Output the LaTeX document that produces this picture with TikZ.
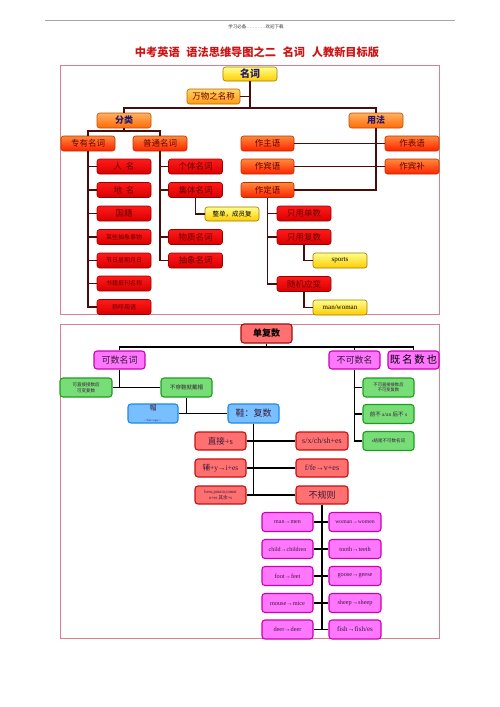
\documentclass[tikz,border=0pt]{standalone}
\usepackage{fontspec}
\setmainfont{Liberation Serif}
\newfontfamily\cjk{Noto Sans CJK SC}
\newcommand\fsz[2]{\fontsize{#1pt}{#2pt}\selectfont}
\definecolor{cRedT}{HTML}{FF1A1A}
\definecolor{cRedB}{HTML}{D80000}
\definecolor{cRedD}{HTML}{9A0000}
\definecolor{cRedTx}{HTML}{6A0000}
\definecolor{cOrT}{HTML}{FF8A3A}
\definecolor{cOrB}{HTML}{FF2200}
\definecolor{cOrD}{HTML}{B83000}
\definecolor{cCatT}{HTML}{FFB060}
\definecolor{cCatB}{HTML}{FF6A08}
\definecolor{cCatD}{HTML}{B85000}
\definecolor{cNavy}{HTML}{25186E}
\definecolor{cYelT}{HTML}{FFFF8A}
\definecolor{cYelB}{HTML}{FFCC00}
\definecolor{cYelD}{HTML}{A07A00}
\definecolor{cGoldT}{HTML}{FFD466}
\definecolor{cGoldB}{HTML}{FF9A10}
\definecolor{cGoldD}{HTML}{B06A00}
\definecolor{cLink}{HTML}{4A0C0C}
\definecolor{cPanel}{HTML}{D9808E}
\definecolor{cTitle}{HTML}{CC1414}
\definecolor{cMag}{HTML}{FF77FF}
\definecolor{cMagD}{HTML}{CC00B0}
\definecolor{cGrn}{HTML}{77DD77}
\definecolor{cGrnD}{HTML}{1E9E1E}
\definecolor{cBlu}{HTML}{77BFFF}
\definecolor{cBluD}{HTML}{1E88E8}
\definecolor{cSal}{HTML}{FF7070}
\definecolor{cSalD}{HTML}{C81010}
\definecolor{cTxt}{HTML}{3A1A3A}
\tikzset{
  bx/.style={draw, rounded corners=2.5pt, inner sep=0pt, align=center, line width=0.6pt},
  redc/.style={bx, top color=cRedT, bottom color=cRedB, draw=cRedD, text=cRedTx,
    font=\cjk\fsz{8.5}{10}, minimum width=54pt, minimum height=15pt},
  orc/.style={bx, top color=cOrT, bottom color=cOrB, draw=cOrD, text=cRedTx,
    font=\cjk\fsz{8.5}{10}, minimum width=54pt, minimum height=15pt},
  catc/.style={bx, top color=cCatT, bottom color=cCatB, draw=cCatD, text=cNavy,
    font=\cjk\bfseries\fsz{9}{10}, minimum width=54pt, minimum height=15pt},
  yelc/.style={bx, top color=cYelT, bottom color=cYelB, draw=cYelD, text=black,
    font=\fsz{7}{8}, minimum width=54pt, minimum height=15pt},
  goldc/.style={bx, top color=cGoldT, bottom color=cGoldB, draw=cGoldD, text=cRedTx,
    font=\cjk\fsz{8.5}{10}, minimum width=53pt, minimum height=15pt},
  lnk/.style={draw=cLink, line width=1.3pt},
  blk/.style={draw=black, line width=1.7pt},
  panel/.style={draw=cPanel, line width=0.9pt},
  bb/.style={draw, rounded corners=3pt, inner sep=0pt, align=center, line width=1.1pt,
    minimum width=51pt, minimum height=19pt, text=cTxt},
  magc/.style={bb, fill=cMag, draw=cMagD},
  grnc/.style={bb, fill=cGrn, draw=cGrnD},
  bluc/.style={bb, fill=cBlu, draw=cBluD},
  salc/.style={bb, fill=cSal, draw=cSalD},
}
\begin{document}
\begin{tikzpicture}[x=1pt,y=-1pt]
\useasboundingbox (0,0) rectangle (500,707);
% header
\draw[gray!70, line width=0.5pt] (45,20) -- (455,20);
\node[font=\cjk\fsz{4.5}{5}, text=black!80] (hdr) at (256,27) {学习必备…………欢迎下载};
\node[font=\cjk\bfseries\fsz{11.2}{13}, text=cTitle] (title) at (257,52) {中考英语\hspace{0.6em}语法思维导图之二\hspace{0.6em}名词\hspace{0.6em}人教新目标版};
% panels
\draw[panel] (60,65) rectangle (439,314);
\draw[panel] (60,324) rectangle (439,638);

% ---------- top panel nodes ----------
\node[bx, top color=cYelT, bottom color=cYelB, draw=cYelD, text=cNavy, font=\cjk\bfseries\fsz{10}{11},
  minimum width=54pt, minimum height=14pt] (mingci) at (250,74) {名词};
\node[goldc] (wanwu) at (213.5,96.5) {万物之名称};
\node[catc] (fenlei) at (124,120.5) {分类};
\node[catc] (yongfa) at (376,120.5) {用法};
\node[orc] (zhuanyou) at (88,143.5) {专有名词};
\node[orc] (putong) at (160,143.5) {普通名词};
\node[redc] (p1) at (124,166.5) {人\ \ 名};
\node[redc] (p2) at (124,190) {地\ \ 名};
\node[redc] (p3) at (124,213.5) {国籍};
\node[redc, font=\cjk\fsz{6}{7}] (p4) at (124,237) {某些抽象事物};
\node[redc, font=\cjk\fsz{6}{7}] (p5) at (124,260.5) {节日星期月日};
\node[redc, font=\cjk\fsz{6}{7}] (p6) at (124,283.5) {书籍报刊名称};
\node[redc, font=\cjk\fsz{6}{7}] (p7) at (124,307) {称呼用语};
\node[redc] (geti) at (195.5,166.5) {个体名词};
\node[redc] (jiti) at (195.5,190) {集体名词};
\node[redc] (wuzhi) at (195.5,237) {物质名词};
\node[redc] (chouxiang) at (195.5,260.5) {抽象名词};
\node[yelc, font=\cjk\fsz{6.5}{7}, minimum height=14pt] (zhengdan) at (232,214) {整单，成员复};
\node[orc, minimum width=53pt] (zuozhu) at (267.5,143.5) {作主语};
\node[orc] (zuobiao) at (412,143.5) {作表语};
\node[orc, minimum width=53pt] (zuobin) at (267.5,166.5) {作宾语};
\node[orc] (zuobinbu) at (412,166.5) {作宾补};
\node[orc, minimum width=53pt] (zuoding) at (267.5,190) {作定语};
\node[redc] (zhidan) at (304,213.5) {只用单数};
\node[redc] (zhifu) at (304,237) {只用复数};
\node[redc] (suiji) at (304,284) {随机应变};
\node[yelc] (sports) at (340,260.5) {sports};
\node[yelc] (manwoman) at (340,307.5) {man/woman};

% ---------- top panel links ----------
\coordinate (j1) at (250,108);
\draw[lnk] (mingci.south) -- (j1);
\draw[lnk] (wanwu.east) -- (wanwu.east -| j1);
\draw[lnk] (fenlei.north) |- (j1) -| (yongfa.north);
\coordinate (j2) at (124,131);
\draw[lnk] (fenlei.south) -- (j2);
\draw[lnk] (zhuanyou.north) |- (j2) -| (putong.north);
\foreach \n in {p1,p2,p3,p4,p5,p6,p7} \draw[lnk] (zhuanyou.south) |- (\n.west);
\foreach \n in {geti,jiti,wuzhi,chouxiang} \draw[lnk] (putong.south) |- (\n.west);
\draw[lnk] (jiti.south) |- (zhengdan.west);
\draw[lnk] (yongfa.south) |- (zuoding.east);
\draw[lnk] (zuozhu.east) -- (zuobiao.west);
\draw[lnk] (zuobin.east) -- (zuobinbu.west);
\foreach \n in {zhidan,zhifu,suiji} \draw[lnk] (zuoding.south) |- (\n.west);
\draw[lnk] (zhifu.south) |- (sports.west);
\draw[lnk] (suiji.south) |- (manwoman.west);

% ---------- bottom panel nodes ----------
\node[salc, draw=cSalD!80!black, font=\cjk\bfseries\fsz{9}{10}, text=black] (danfu) at (266.5,333.5) {单复数};
\node[magc, font=\cjk\fsz{9}{10}, minimum height=18pt] (kes) at (119.5,360) {可数名词};
\node[magc, font=\cjk\fsz{9}{10}, minimum height=18pt] (bukes) at (354.5,360) {不可数名};
\node[magc, font=\cjk\fsz{10.5}{11}, minimum height=18pt, text=black] (jimin) at (413.5,360) {既\,名\,数\,也};
\node[grnc, font=\cjk\fsz{4.5}{6}, minimum width=52pt] (kezhijie) at (86,387.5) {可直接接数后\\可变复数};
\node[grnc, font=\cjk\fsz{5.5}{6}] (buchuan) at (186.5,387.5) {不穿鞋就戴帽};
\node[bluc, minimum width=50pt] (mao) at (153,413.5) {{\cjk\fsz{7}{8}帽}\\[-1pt]{\fsz{3}{3}\textasciitilde\textasciitilde hat\textasciitilde caps\textasciitilde\textasciitilde}};
\node[bluc, font=\cjk\fsz{9}{10}] (xie) at (253.5,413.5) {鞋：复数};
\node[salc, minimum height=18pt, font=\fsz{8.5}{10}] (zhijie) at (220.5,441) {{\cjk 直接}+s};
\node[salc, minimum height=18pt, minimum width=52pt, font=\fsz{8}{10}] (sx) at (322,441) {s/x/ch/sh+es};
\node[salc, minimum height=18pt, font=\fsz{7.5}{9}] (fu) at (220.5,468) {{\cjk 辅}+y→i+es};
\node[salc, minimum height=18pt, minimum width=52pt, font=\fsz{8}{10}] (ffe) at (322,468) {f/fe→v+es};
\node[salc, minimum height=18pt, font=\fsz{4.6}{5.6}] (hero) at (220.5,495) {hero,potato,tomat\\o+es {\cjk 其余}+s};
\node[salc, minimum height=18pt, minimum width=52pt, font=\cjk\fsz{9}{10}] (bugui) at (322,495) {不规则};
\node[grnc, font=\cjk\fsz{4.3}{5.5}] (g1) at (388.5,387.5) {不可直接接数后\\不可变复数};
\node[grnc, font=\fsz{5.5}{6}] (g2) at (388.5,414) {{\cjk 前不} a/an {\cjk 后不} s};
\node[grnc, font=\fsz{4.5}{6}] (g3) at (388.5,441) {s{\cjk 结尾不可数名词}};
\node[magc, font=\fsz{6}{7}] (r1a) at (287.5,522) {man→men};
\node[magc, font=\fsz{5.7}{7}, minimum width=52pt] (r1b) at (355,522) {woman→women};
\node[magc, font=\fsz{6}{7}] (r2a) at (287.5,549) {child→children};
\node[magc, font=\fsz{6.3}{7}, minimum width=52pt] (r2b) at (355,549) {tooth→teeth};
\node[magc, font=\fsz{6.3}{7}] (r3a) at (287.5,576) {foot→feet};
\node[magc, font=\fsz{6.3}{7}, minimum width=52pt] (r3b) at (355,576) {goose→geese};
\node[magc, font=\fsz{6.3}{7}] (r4a) at (287.5,603) {mouse→mice};
\node[magc, font=\fsz{6.3}{7}, minimum width=52pt] (r4b) at (355,603) {sheep→sheep};
\node[magc, font=\fsz{6.3}{7}] (r5a) at (287.5,629.5) {deer→deer};
\node[magc, font=\fsz{7}{8}, minimum width=52pt] (r5b) at (355,629.5) {fish→fish/es};

% ---------- bottom panel links ----------
\coordinate (j3) at (266.5,347);
\draw[blk] (danfu.south) -- (j3);
\draw[blk] (kes.north) |- (j3) -| (jimin.north);
\draw[blk] (bukes.north) -- (bukes.north |- j3);
\draw[blk] (kes.south) -- (kes.south |- kezhijie.east);
\draw[blk] (kezhijie.east) -- (buchuan.west);
\draw[blk] (buchuan.south) -- (buchuan.south |- mao.east);
\draw[blk] (mao.east) -- (xie.west);
\draw[blk] (xie.south) -- (xie.south |- hero.east);
\draw[blk] (zhijie.east) -- (sx.west);
\draw[blk] (fu.east) -- (ffe.west);
\draw[blk] (hero.east) -- (bugui.west);
\foreach \n in {g1,g2,g3} \draw[blk] (bukes.south) |- (\n.west);
\draw[blk] (bugui.south) -- (bugui.south |- r5a.east);
\foreach \i in {1,...,5} \draw[blk] (r\i a.east) -- (r\i b.west);
\end{tikzpicture}
\end{document}
